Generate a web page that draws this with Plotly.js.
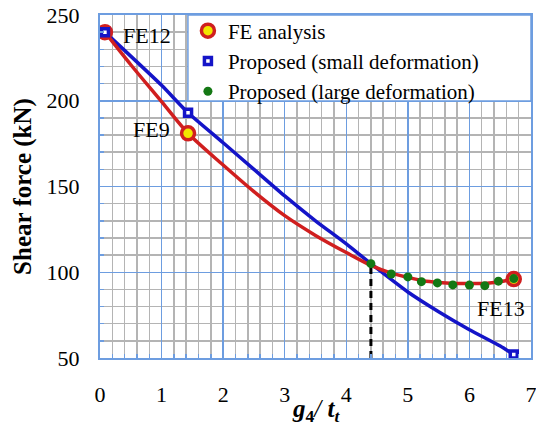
<!DOCTYPE html>
<html>
<head>
<meta charset="utf-8">
<script src="https://cdn.plot.ly/plotly-3.0.1.min.js"></script>
<style>html,body{margin:0;padding:0;background:#fff;}#chart{width:536px;height:444px;}</style>
</head>
<body>
<div id="chart"></div>
<script>
// FE analysis curve
const xFECurve = [0.08, 0.5, 1.0, 1.43, 2.0, 2.5, 3.0, 3.5, 4.0, 4.4, 4.73, 5.0, 5.25, 5.5, 5.75, 6.0, 6.25, 6.5, 6.72];
const yFECurve = [240, 221, 199.5, 181, 162.5, 147, 133, 121.5, 111.5, 104, 99.5, 97, 95, 94, 93.5, 93.5, 93.5, 94.5, 96];
// FE analysis points (FE12, FE9, FE13)
const xFEPts = [0.08, 1.43, 6.72];
const yFEPts = [240, 181, 96];
const feLabels = ['FE12', 'FE9', 'FE13'];
// Proposed (small deformation)
const xSmall = [0.08, 1.0, 1.43, 2.0, 2.5, 3.0, 3.5, 4.0, 4.4, 5.0, 5.5, 6.0, 6.5, 6.72];
const ySmall = [240, 209, 193, 175.5, 160, 144.5, 130, 116.5, 105, 88.5, 77, 66.5, 57, 52];
const xSmallPts = [0.08, 1.43, 6.72];
const ySmallPts = [240, 193, 52];
// Proposed (large deformation)
const xLarge = [4.4, 4.73, 5.0, 5.22, 5.48, 5.73, 6.0, 6.25, 6.47, 6.72];
const yLarge = [105, 99, 97.3, 94.5, 93.8, 92.6, 92.5, 92.2, 94.8, 96.3];
// Dashed marker line
const xDash = [4.4, 4.4];
const yDash = [50, 103];
// Axis ticks
const xTicks = [0, 1, 2, 3, 4, 5, 6, 7];
const yTicks = [50, 100, 150, 200, 250];

const RED = '#d01f1f', BLUE = '#1414c8', GREEN = '#147814';
const GRIDBLUE = '#6d9de0', GRIDGREY = '#b4b4b4';
const FONT = "'Liberation Serif', 'Times New Roman', serif";

const traces = [
  {x: xDash, y: yDash, mode: 'lines', line: {color: '#000', width: 3, dash: '7px,5px'}, showlegend: false, hoverinfo: 'skip'},
  {x: xSmall, y: ySmall, mode: 'lines', line: {color: BLUE, width: 3.5, shape: 'spline', smoothing: 0.6}, showlegend: false},
  {x: xFECurve, y: yFECurve, mode: 'lines', line: {color: RED, width: 3.5, shape: 'spline', smoothing: 0.9}, showlegend: false},
  {x: xFEPts, y: yFEPts, mode: 'markers', name: 'FE analysis',
   marker: {color: '#f2e600', size: 13, symbol: 'circle', line: {color: RED, width: 3.5}}},
  {x: xSmallPts, y: ySmallPts, mode: 'markers', name: 'Proposed (small deformation)',
   marker: {color: '#ffffff', size: 7, symbol: 'square', line: {color: BLUE, width: 3.5}}},
  {x: xLarge, y: yLarge, mode: 'markers', name: 'Proposed (large deformation)',
   marker: {color: GREEN, size: 9, symbol: 'circle'}}
];

const layout = {
  width: 536, height: 444,
  margin: {l: 100, r: 5, t: 15, b: 86},
  paper_bgcolor: '#fff', plot_bgcolor: '#fff',
  font: {family: FONT, size: 22, color: '#000'},
  showlegend: true,
  legend: {
    x: 0.204, xanchor: 'left', y: 1.013, yanchor: 'top',
    bgcolor: 'rgba(0,0,0,0)', borderwidth: 0,
    font: {family: FONT, size: 21, color: '#000'},
    traceorder: 'normal', itemsizing: 'trace',
    tracegroupgap: 0
  },
  xaxis: {
    range: [0, 7], tickvals: xTicks, ticktext: xTicks.map(String),
    showgrid: true, gridcolor: GRIDBLUE, gridwidth: 1.5,
    zeroline: false, showline: true, linecolor: GRIDBLUE, linewidth: 2, mirror: true,
    ticks: 'inside', ticklen: 5, tickcolor: GRIDBLUE, tickwidth: 1.5,
    ticklabelstandoff: 16, ticklabeloverflow: 'allow',
    minor: {dtick: 0.2, showgrid: true, gridcolor: GRIDGREY, gridwidth: 1.5, ticks: 'inside', ticklen: 4, tickcolor: GRIDBLUE, tickwidth: 1.5},
    tickfont: {family: FONT, size: 22}
  },
  yaxis: {
    range: [50, 250], tickvals: yTicks, ticktext: yTicks.map(String),
    showgrid: true, gridcolor: GRIDBLUE, gridwidth: 1.5,
    zeroline: false, showline: true, linecolor: GRIDBLUE, linewidth: 2, mirror: true,
    ticks: 'inside', ticklen: 5, tickcolor: GRIDBLUE, tickwidth: 1.5,
    ticklabelstandoff: 14,
    minor: {dtick: 10, showgrid: true, gridcolor: GRIDGREY, gridwidth: 1.5, ticks: 'inside', ticklen: 4, tickcolor: GRIDBLUE, tickwidth: 1.5},
    tickfont: {family: FONT, size: 22},
    title: {text: '<b>Shear force (kN)</b>', font: {family: FONT, size: 25}, standoff: 8}
  },
  shapes: [
    {type: 'rect', xref: 'paper', yref: 'paper', x0: 0.204, x1: 1.0, y0: 0.7493, y1: 1.0,
     fillcolor: '#fff', line: {color: GRIDBLUE, width: 1.5}, layer: 'above'}
  ],
  annotations: [
    {x: 0.76, y: 237.8, xref: 'x', yref: 'y', text: feLabels[0], showarrow: false, font: {family: FONT, size: 22}},
    {x: 0.83, y: 183.1, xref: 'x', yref: 'y', text: feLabels[1], showarrow: false, font: {family: FONT, size: 22}},
    {x: 6.52, y: 78.9, xref: 'x', yref: 'y', text: feLabels[2], showarrow: false, font: {family: FONT, size: 22}},
    {x: 0.5, y: -0.152, xref: 'paper', yref: 'paper', xanchor: 'center', yanchor: 'middle', showarrow: false,
     text: '<b><i>g</i><sub>4</sub></b><i>/</i> <b><i>t</i><sub><i>t</i></sub></b>', font: {family: FONT, size: 25}}
  ]
};

Plotly.newPlot('chart', traces, layout, {displayModeBar: false, staticPlot: true});
</script>
</body>
</html>
